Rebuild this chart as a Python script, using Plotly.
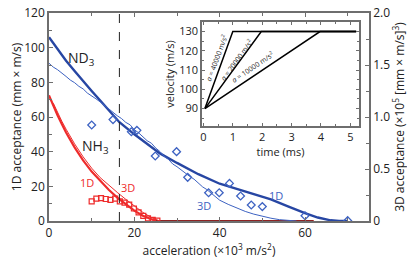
import plotly.graph_objects as go

# ---------------- data ----------------
# ND3 1D acceptance (left axis, mm x m/s)
nd3_1d_x = [0, 2, 4, 6, 8, 10, 12, 14, 16.5, 20, 23, 26, 30, 35, 40, 44, 48, 52, 56, 60, 63, 66, 68, 70]
nd3_1d_y = [106, 99, 92.5, 86.5, 80.5, 75, 69.5, 64, 57, 50, 44.5, 39, 33.5, 27, 21.5, 18.5, 15.8, 12.5, 8.5, 4.5, 2, 0.4, 0, 0]

# ND3 3D acceptance (right axis, x10^5 [mm x m/s]^3)
nd3_3d_x = [0, 1, 2, 3, 4, 5, 6, 7, 8, 9, 10, 11, 12, 13, 14, 15, 16, 17, 18, 19, 20, 21, 22, 23, 24, 25,
            26, 27, 28, 29, 30, 31, 32, 33, 34, 35, 36, 37, 38, 39, 40, 42, 44, 46, 48, 50, 52, 54, 56, 58]
nd3_3d_y = [1.517, 1.48, 1.455, 1.425, 1.39, 1.355, 1.33, 1.295, 1.27, 1.23, 1.205, 1.175, 1.145, 1.11, 1.08,
            1.045, 1.012, 0.985, 0.948, 0.925, 0.878, 0.848, 0.812, 0.772, 0.748, 0.702, 0.668, 0.622, 0.592,
            0.548, 0.522, 0.488, 0.458, 0.428, 0.402, 0.365, 0.328, 0.302, 0.268, 0.232, 0.2, 0.16, 0.124,
            0.092, 0.066, 0.044, 0.027, 0.013, 0.005, 0]

# ND3 measured (diamonds, left axis)
nd3_exp_x = [10, 15, 19.3, 20.6, 24.9, 29.9, 32.5, 37.4, 39.9, 42.3, 44.9, 47.4, 50, 60, 70]
nd3_exp_y = [55.4, 58.5, 51.5, 52.3, 37.5, 40, 25.2, 16.3, 16.3, 21.7, 14.4, 9.2, 8.3, 3, 0.2]

# NH3 1D acceptance (left axis)
nh3_1d_x = [0, 1, 2, 3, 4, 6, 8, 10, 12, 14, 16, 18, 20, 22, 24, 25, 40, 62]
nh3_1d_y = [72.5, 66.5, 61, 56, 51, 42.5, 35, 28.5, 23, 18, 13.5, 9.5, 6, 3, 0.8, 0, 0, 0]

# NH3 3D acceptance (right axis)
nh3_3d_x = [1, 2, 3, 4, 6, 8, 10, 12, 14, 16, 18, 20, 22, 24, 25, 26]
nh3_3d_y = [1.133, 1.042, 0.96, 0.883, 0.742, 0.617, 0.508, 0.417, 0.342, 0.275, 0.208, 0.142, 0.083, 0.033, 0.013, 0]

# NH3 measured (squares, left axis)
nh3_exp_x = [10, 11.1, 12.2, 13.3, 14.4, 15.5, 16.6, 17.7, 18.8, 19.9, 21, 22.1, 23.2, 24.3, 25.4]
nh3_exp_y = [11.3, 12.9, 13.2, 12.7, 12.2, 12.9, 11.3, 10.6, 9.5, 7.2, 5, 2.9, 1.5, 0.6, 0.2]

# dashed marker line position
dash_x = 16.5

# inset: velocity profiles
inset_t = {"40000": [0.05, 1.0, 5.2], "20000": [0.05, 1.97, 5.2], "10000": [0.05, 3.97, 5.2]}
inset_v = [90, 130, 130]

# ---------------- styles ----------------
BLUE = "#2746a3"
BLUE_L = "#3d62c2"
RED = "#ee2b2b"
DARKRED = "#8e2222"
AX = "#6e6e6e"
TXT = "#222222"
FONT = "Open Sans"

fig = go.Figure()

fig.add_trace(go.Scatter(x=nd3_3d_x, y=nd3_3d_y, mode="lines", yaxis="y2",
                         line=dict(color=BLUE_L, width=1)))
fig.add_trace(go.Scatter(x=nd3_1d_x, y=nd3_1d_y, mode="lines",
                         line=dict(color=BLUE, width=2.4)))
fig.add_trace(go.Scatter(x=nd3_exp_x, y=nd3_exp_y, mode="markers",
                         marker=dict(symbol="diamond-open", size=6, color=BLUE_L, line=dict(width=1.3))))

fig.add_trace(go.Scatter(x=nh3_3d_x, y=nh3_3d_y, mode="lines", yaxis="y2",
                         line=dict(color=RED, width=1)))
fig.add_trace(go.Scatter(x=nh3_1d_x, y=nh3_1d_y, mode="lines",
                         line=dict(color=RED, width=2.2)))
# zero-acceptance tail of NH3 along the axis
fig.add_trace(go.Scatter(x=nh3_1d_x[-3:], y=nh3_1d_y[-3:], mode="lines",
                         line=dict(color=DARKRED, width=2)))
fig.add_trace(go.Scatter(x=nh3_exp_x, y=nh3_exp_y, mode="markers",
                         marker=dict(symbol="square-open", size=5, color=RED, line=dict(width=1.2))))

for k in inset_t:
    fig.add_trace(go.Scatter(x=inset_t[k], y=inset_v, mode="lines", xaxis="x2", yaxis="y3",
                             line=dict(color="black", width=1.5)))

fig.add_shape(type="line", x0=dash_x, x1=dash_x, y0=0, y1=1, xref="x", yref="paper",
              line=dict(color="#222", width=1, dash="dash"))

ann = []
def lab(x, y, t, c, s=14, xr="x", yr="y", ang=0):
    ann.append(dict(x=x, y=y, xref=xr, yref=yr, text=t, showarrow=False, textangle=ang,
                    font=dict(color=c, size=s, family=FONT)))

lab(7.5, 94, "ND<sub>3</sub>", TXT, 14)
lab(11, 43, "NH<sub>3</sub>", TXT, 14)
lab(9.0, 22, "1D", RED, 11)
lab(18.6, 19.6, "3D", RED, 11)
lab(53.2, 15, "1D", BLUE_L, 11)
lab(36.4, 9.2, "3D", BLUE_L, 11)
lab(0.44, 116.4, "<i>a</i> = 40000 m/s<sup>2</sup>", TXT, 7, "x2", "y3", -69.6)
lab(1.12, 115.4, "<i>a</i> = 20000 m/s<sup>2</sup>", TXT, 7, "x2", "y3", -53.8)
lab(1.67, 111.8, "<i>a</i> = 10000 m/s<sup>2</sup>", TXT, 7, "x2", "y3", -33.9)

axcommon = dict(showline=True, linecolor=AX, linewidth=1.5, ticks="inside", tickcolor=AX,
                showgrid=False, zeroline=False, automargin=False, ticklabeloverflow="allow",
                tickfont=dict(size=12, color=TXT, family=FONT))

# page body has an 8px offset, so the figure is sized to fit the 415x261 window
fig.update_layout(
    width=407, height=253, margin=dict(l=41, r=46, t=5, b=40),
    paper_bgcolor="white", plot_bgcolor="white", showlegend=False,
    font=dict(family=FONT, color=TXT),
    annotations=ann,
    xaxis=dict(**axcommon, range=[0, 75], dtick=20, ticklen=4, mirror="ticks",
               minor=dict(dtick=10, ticks="inside", ticklen=3, tickcolor=AX),
               title=dict(text="acceleration (×10<sup>3</sup> m/s<sup>2</sup>)", font=dict(size=12), standoff=2)),
    yaxis=dict(**axcommon, range=[0, 120], dtick=20, ticklen=4,
               minor=dict(dtick=10, ticks="inside", ticklen=3, tickcolor=AX),
               title=dict(text="1D acceptance (mm × m/s)", font=dict(size=12), standoff=4)),
    yaxis2=dict(**axcommon, range=[0, 2.0], overlaying="y", side="right", anchor="x",
                tickvals=[0, 0.5, 1.0, 1.5, 2.0], ticktext=["0", "0.5", "1.0", "1.5", "2.0"], ticklen=4,
                minor=dict(dtick=0.25, ticks="inside", ticklen=3, tickcolor=AX),
                title=dict(text="3D acceptance (×10<sup>5</sup> [mm × m/s]<sup>3</sup>)", font=dict(size=12), standoff=4)),
    xaxis2=dict(**axcommon, domain=[0.478, 0.969], anchor="y3", range=[-0.05, 5.3], dtick=1,
                ticklen=3, mirror="ticks",
                minor=dict(dtick=0.5, ticks="inside", ticklen=2, tickcolor=AX),
                title=dict(text="time (ms)", font=dict(size=11), standoff=2)),
    yaxis3=dict(**axcommon, domain=[0.457, 0.957], anchor="x2", range=[81, 135], dtick=10,
                ticklen=3, mirror="ticks",
                minor=dict(dtick=5, ticks="inside", ticklen=2, tickcolor=AX),
                title=dict(text="velocity (m/s)", font=dict(size=11), standoff=2)),
)
fig.update_xaxes(selector=dict(anchor="y3"), tickfont=dict(size=11))
fig.update_yaxes(selector=dict(anchor="x2"), tickfont=dict(size=11))

fig.write_html("out.html")
